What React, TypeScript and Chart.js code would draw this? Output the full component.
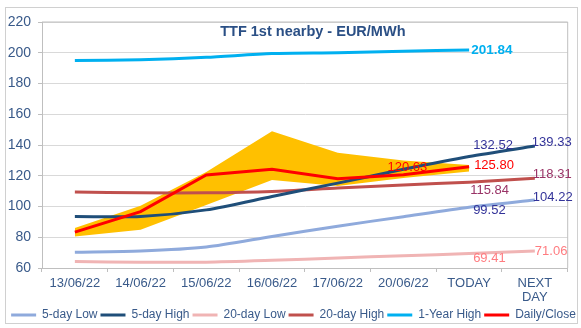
import React, { useEffect, useRef } from 'react';
import { Chart, registerables } from 'chart.js';

Chart.register(...registerables);

// ---- data ----
const categories: (string | string[])[] = ['13/06/22', '14/06/22', '15/06/22', '16/06/22', '17/06/22', '20/06/22', 'TODAY', ['NEXT', 'DAY']];
const yTicks = [60, 80, 100, 120, 140, 160, 180, 200, 220];

const fiveDayLow = [70.3, 71.0, 73.6, 80.5, 87.2, 93.4, 99.52, 104.22];
const fiveDayHigh = [93.5, 93.5, 97.8, 106.5, 115.2, 124.2, 132.52, 139.33];
const twentyDayLow = [64.2, 63.8, 63.8, 65.0, 66.5, 68.0, 69.41, 71.06];
const twentyDayHigh = [109.4, 108.9, 108.9, 109.8, 112.0, 114.0, 115.84, 118.31];
const oneYearHigh = [195.0, 195.5, 197.0, 199.5, 200.0, 201.0, 201.84, null];
const dailyClose = [83.3, 96.7, 120.5, 124.2, 118.0, 120.63, 125.8, null];
const rangeLow = [80.5, 84.8, 101.0, 117.3, 113.3, 118.5, 122.7, null];
const rangeHigh = [86.0, 100.5, 122.5, 149.0, 135.0, 130.0, 127.0, null];

const seriesNames = ['5-day Low', '5-day High', '20-day Low', '20-day High', '1-Year High', 'Daily/Close'];
const titleText = 'TTF 1st nearby - EUR/MWh';

// ---- styles ----
const FONT = "'Liberation Sans', Arial, sans-serif";
const TEXT_COLOR = '#395A8A';
const lineColors = ['#8FAADC', '#1F4E79', '#F0B4B4', '#C0504D', '#00B0F0', '#FF0000'];
const bandColor = '#FFC000';

type LabelItem = { index: number; dx: number; dy: number; align?: 'left' | 'center' };
const labelStyles: { color: string; bold: boolean; items: LabelItem[] }[] = [
  { color: '#333399', bold: false, items: [{ index: 6, dx: 4, dy: 3.5 }, { index: 7, dx: -2, dy: -3 }] },
  { color: '#333399', bold: false, items: [{ index: 6, dx: 4, dy: -11.5 }, { index: 7, dx: -3, dy: -3.5 }] },
  { color: '#FF7C80', bold: false, items: [{ index: 6, dx: 4, dy: 5 }, { index: 7, dx: 0, dy: 0 }] },
  { color: '#993366', bold: false, items: [{ index: 6, dx: 1, dy: 8.5 }, { index: 7, dx: -2, dy: -3.5 }] },
  { color: '#00B0F0', bold: true, items: [{ index: 6, dx: 2, dy: 0 }] },
  { color: '#FF0000', bold: false, items: [{ index: 5, dx: 4, dy: -7.5, align: 'center' }, { index: 6, dx: 5, dy: -1 }] },
];

const decorPlugin = {
  id: 'decor',
  beforeDraw(chart: any) {
    const { ctx, width, height } = chart;
    ctx.save();
    ctx.fillStyle = '#FFFFFF';
    ctx.fillRect(0, 0, width, height);
    ctx.strokeStyle = '#D0D0D0';
    ctx.lineWidth = 1;
    ctx.strokeRect(5.5, 7.5, 572, 316);
    ctx.restore();
  },
  beforeDatasetsDraw(chart: any) {
    const { ctx, chartArea } = chart;
    ctx.save();
    ctx.strokeStyle = '#BFBFBF';
    ctx.lineWidth = 1;
    ctx.beginPath();
    ctx.moveTo(chartArea.left, chartArea.top);
    ctx.lineTo(chartArea.right, chartArea.top);
    ctx.lineTo(chartArea.right, chartArea.bottom);
    ctx.stroke();
    ctx.restore();
  },
  afterDatasetsDraw(chart: any) {
    const { ctx, chartArea } = chart;
    ctx.save();
    // title
    ctx.font = `bold 14.5px ${FONT}`;
    ctx.fillStyle = '#2A4F85';
    ctx.textAlign = 'center';
    ctx.textBaseline = 'middle';
    ctx.fillText(titleText, chartArea.left + (chartArea.right - chartArea.left) / 2 + 8, 32);
    // data labels
    labelStyles.forEach((ls, di) => {
      const meta = chart.getDatasetMeta(di);
      const ds = chart.data.datasets[di];
      ctx.font = `${ls.bold ? 'bold 13.5px' : '13px'} ${FONT}`;
      ctx.fillStyle = ls.color;
      ls.items.forEach((it) => {
        const el = meta.data[it.index];
        const v = ds.data[it.index];
        if (!el || v == null) return;
        ctx.textAlign = it.align === 'center' ? 'center' : 'left';
        ctx.textBaseline = 'middle';
        ctx.fillText(Number(v).toFixed(2), el.x + it.dx, el.y + it.dy);
      });
    });
    ctx.restore();
  },
};

export default function App() {
  const ref = useRef<HTMLCanvasElement>(null);

  useEffect(() => {
    const canvas = ref.current;
    if (!canvas) return;
    const seriesData = [fiveDayLow, fiveDayHigh, twentyDayLow, twentyDayHigh, oneYearHigh, dailyClose];
    const lineSets = seriesData.map((d, i) => ({
      label: seriesNames[i],
      data: d,
      borderColor: lineColors[i],
      backgroundColor: lineColors[i],
      borderWidth: 3,
      pointRadius: 0,
      tension: i === 5 ? 0 : 0.25,
      fill: false,
      order: i === 5 ? 0 : 1,
    }));
    const chart = new Chart(canvas, {
      type: 'line',
      data: {
        labels: categories as any,
        datasets: [
          ...lineSets,
          {
            label: 'rangeLow',
            data: rangeLow,
            borderWidth: 0,
            borderColor: 'rgba(0,0,0,0)',
            pointRadius: 0,
            fill: false,
            order: 5,
          },
          {
            label: 'rangeHigh',
            data: rangeHigh,
            borderWidth: 0,
            borderColor: 'rgba(0,0,0,0)',
            backgroundColor: bandColor,
            pointRadius: 0,
            fill: { target: 6 },
            order: 5,
          },
        ] as any,
      },
      options: {
        responsive: false,
        devicePixelRatio: 1,
        animation: false,
        layout: { padding: { left: 6, top: 22, right: 0, bottom: 0 } },
        plugins: {
          tooltip: { enabled: false },
          title: { display: false },
          legend: {
            position: 'bottom',
            labels: {
              usePointStyle: true,
              pointStyle: 'line',
              pointStyleWidth: 25,
              padding: 3,
              color: TEXT_COLOR,
              font: { size: 12, family: FONT },
              filter: (item: any) => item.datasetIndex < 6,
              sort: (a: any, b: any) => a.datasetIndex - b.datasetIndex,
            },
          },
        },
        scales: {
          x: {
            offset: true,
            grid: { offset: true, drawOnChartArea: false, drawTicks: true, tickLength: 4, color: '#BFBFBF' },
            border: { color: '#BFBFBF' },
            ticks: { color: TEXT_COLOR, font: { size: 13, family: FONT, lineHeight: 1.1 }, padding: 4, maxRotation: 0, autoSkip: false },
            afterFit: (s: any) => { s.height = 38; },
          },
          y: {
            min: yTicks[0],
            max: yTicks[yTicks.length - 1],
            afterBuildTicks: (s: any) => { s.ticks = yTicks.map((v) => ({ value: v })); },
            ticks: { color: TEXT_COLOR, font: { size: 14, family: FONT }, padding: 7 },
            grid: { color: '#D9D9D9', tickLength: 4, tickColor: '#BFBFBF' },
            border: { color: '#BFBFBF' },
            afterFit: (s: any) => { s.width = 36; },
          },
          y2: {
            type: 'linear',
            position: 'right',
            display: true,
            grid: { display: false },
            border: { display: false },
            ticks: { display: false },
            afterFit: (s: any) => { s.width = 13.3; },
          },
        },
      } as any,
      plugins: [decorPlugin],
    });
    return () => chart.destroy();
  }, []);

  return (
    <div style={{ position: 'fixed', left: 0, top: 0, width: 581, height: 328, overflow: 'hidden', background: '#fff' }}>
      <canvas ref={ref} width={581} height={331} style={{ display: 'block', width: 581, height: 331 }} />
    </div>
  );
}
